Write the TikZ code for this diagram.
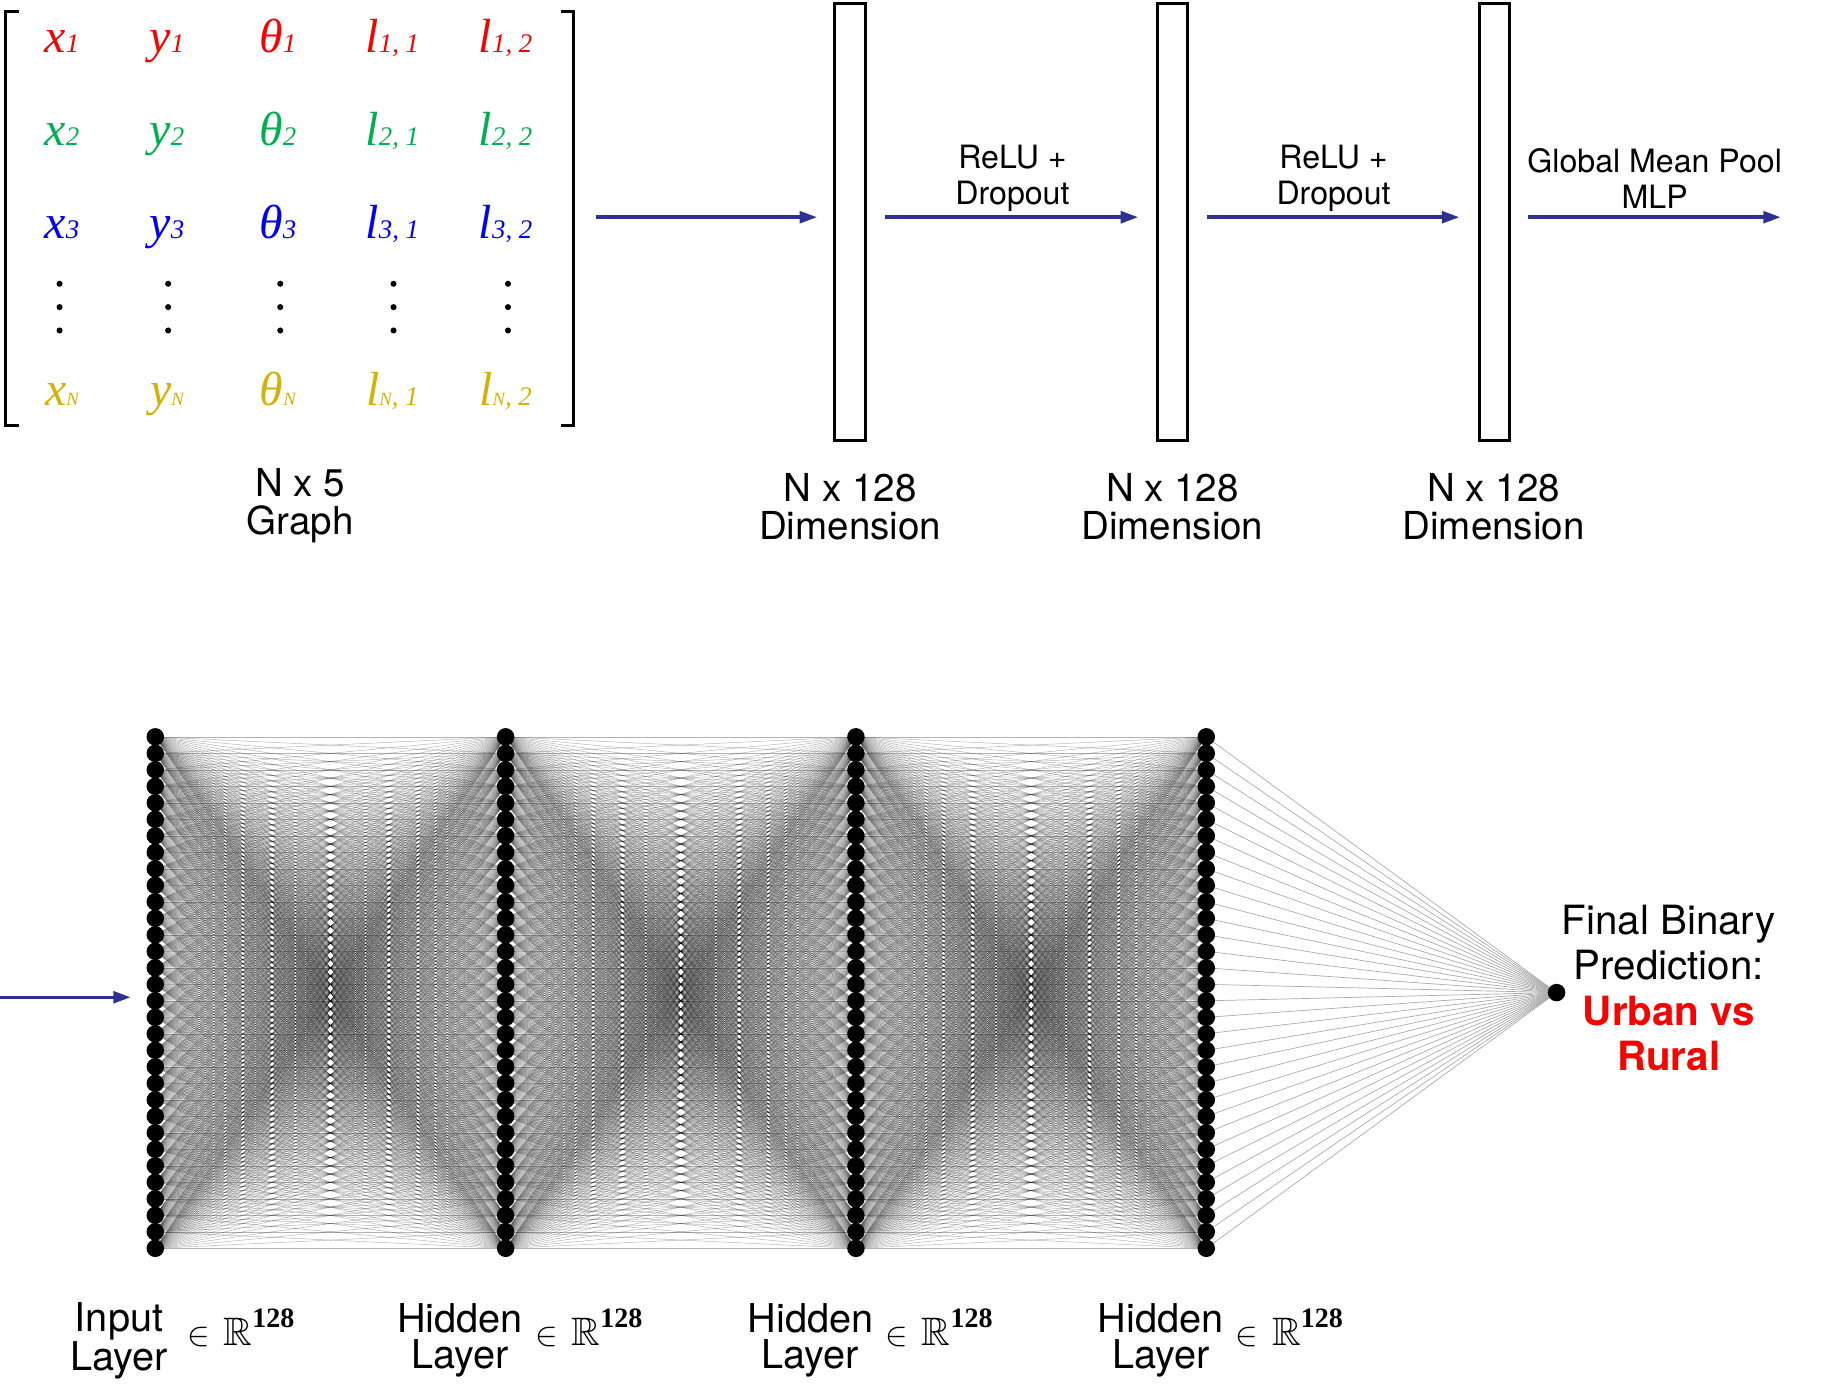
\documentclass[tikz,border=0pt]{standalone}
\usepackage{fontspec}
\usepackage{amssymb}
\usepackage{graphicx}
\setmainfont{TeX Gyre Heros}
\newfontfamily\tms{Liberation Serif}
\usetikzlibrary{arrows.meta}
\definecolor{navy}{RGB}{46,49,146}
\definecolor{mred}{RGB}{250,0,0}
\definecolor{mgreen}{RGB}{0,176,80}
\definecolor{mblue}{RGB}{0,0,250}
\definecolor{mgold}{RGB}{212,177,6}
\pgfdeclarelayer{bg}
\pgfsetlayers{bg,main}
\newcommand\mentry[2]{{\tms\itshape\fontsize{41}{42}\selectfont #1}{\tms\itshape\fontsize{23}{24}\selectfont #2}}
\newcommand\smN{{\fontsize{16}{16}\selectfont N}}
\newcommand\memb{\scalebox{2.9}{$\in$}\hspace{12pt}\scalebox{3.4}{$\mathbb{R}$}\raisebox{15pt}{\tms\bfseries\fontsize{24}{24}\selectfont 128}}
\begin{document}
\begin{tikzpicture}[x=1pt,y=-1pt,
  ent/.style={anchor=base, inner sep=0pt},
  dotn/.style={circle, fill=black, inner sep=0pt, minimum size=5.2pt},
  bracketline/.style={line width=2.5pt},
  vbox/.style={draw, line width=2.5pt, minimum width=26pt, minimum height=374pt, inner sep=0pt},
  arr/.style={draw=navy, line width=3pt, -{Triangle[length=15pt,width=10pt]}},
  biglabel/.style={align=center, font=\fontsize{33}{32}\selectfont, inner sep=0pt},
  arrlabel/.style={align=center, font=\fontsize{27.5}{31}\selectfont, inner sep=0pt},
  neuron/.style={circle, fill=black, inner sep=0pt, minimum size=15pt},
  edge/.style={line width=0.4pt, draw=black, draw opacity=0.3},
  outedge/.style={line width=0.6pt, draw=black!33},
  memlabel/.style={anchor=base west, inner sep=0pt}
]
\useasboundingbox (0,0) rectangle (1568,1191.2);

% ---------- matrix ----------
\node[minimum width=486pt, minimum height=354pt, inner sep=0pt] (mat) at (248,187) {};
\draw[bracketline] (16,10) -| (5,364) -- (16,364);
\draw[bracketline] (480,10) -| (491,364) -- (480,364);

\node[ent, text=mred] (a11) at (53,45) {\mentry{x}{1}};
\node[ent, text=mred] (a12) at (143,45) {\mentry{y}{1}};
\node[ent, text=mred] (a13) at (238,45) {\mentry{θ}{1}};
\node[ent, text=mred] (a14) at (336,45) {\mentry{l}{1, 1}};
\node[ent, text=mred] (a15) at (433,45) {\mentry{l}{1, 2}};

\node[ent, text=mgreen] (a21) at (53,125) {\mentry{x}{2}};
\node[ent, text=mgreen] (a22) at (143,125) {\mentry{y}{2}};
\node[ent, text=mgreen] (a23) at (238,125) {\mentry{θ}{2}};
\node[ent, text=mgreen] (a24) at (336,125) {\mentry{l}{2, 1}};
\node[ent, text=mgreen] (a25) at (433,125) {\mentry{l}{2, 2}};

\node[ent, text=mblue] (a31) at (53,204) {\mentry{x}{3}};
\node[ent, text=mblue] (a32) at (143,204) {\mentry{y}{3}};
\node[ent, text=mblue] (a33) at (238,204) {\mentry{θ}{3}};
\node[ent, text=mblue] (a34) at (336,204) {\mentry{l}{3, 1}};
\node[ent, text=mblue] (a35) at (433,204) {\mentry{l}{3, 2}};

\node[ent, text=mgold] (a41) at (53,347) {\mentry{x}{\smN}};
\node[ent, text=mgold] (a42) at (143,347) {\mentry{y}{\smN}};
\node[ent, text=mgold] (a43) at (238,347) {\mentry{θ}{\smN}};
\node[ent, text=mgold] (a44) at (336,347) {\mentry{l}{\smN, 1}};
\node[ent, text=mgold] (a45) at (433,347) {\mentry{l}{\smN, 2}};

\foreach \c/\x in {1/51,2/144,3/240,4/337,5/435}
  \foreach \r/\y in {1/243,2/263,3/283}
    \node[dotn] (d\c-\r) at (\x,\y) {};

\node[biglabel] (graphlab) at (257,433) {N x 5\\Graph};

% ---------- GNN boxes ----------
\node[vbox] (b1) at (728,190) {};
\node[vbox] (b2) at (1004,190) {};
\node[vbox] (b3) at (1280,190) {};
\coordinate (e3) at (1525,186);

\draw[arr, shorten <=19pt, shorten >=14pt] ([yshift=1pt]mat.east) -- ([yshift=4pt]b1.west);
\draw[arr, shorten <=16pt, shorten >=15pt] ([yshift=4pt]b1.east) -- ([yshift=4pt]b2.west);
\draw[arr, shorten <=15pt, shorten >=16pt] ([yshift=4pt]b2.east) -- ([yshift=4pt]b3.west);
\draw[arr, shorten <=14pt] ([yshift=4pt]b3.east) -- (e3);

\node[arrlabel] (r1) at (867,153) {ReLU +\\Dropout};
\node[arrlabel] (r2) at (1142,153) {ReLU +\\Dropout};
\node[arrlabel] (r3) at (1417,153) {Global Mean Pool\\MLP};

\node[biglabel] (dim1) at (728,434) {N x 128\\Dimension};
\node[biglabel] (dim2) at (1004,434) {N x 128\\Dimension};
\node[biglabel] (dim3) at (1279,434) {N x 128\\Dimension};

% ---------- MLP ----------
\foreach \l/\x in {1/133,2/433,3/733,4/1033}
  \foreach \i in {1,...,32}
    \node[neuron] (L\l-\i) at (\x,{631+(\i-1)*14.129}) {};
\node[neuron] (out) at (1333,850) {};

\begin{pgfonlayer}{bg}
\foreach \l/\m in {1/2,2/3,3/4}
  \foreach \i in {1,...,32}
    \foreach \j in {1,...,32}
      \draw[edge] (L\l-\i.center) -- (L\m-\j.center);
\foreach \i in {1,...,32}
  \draw[outedge] (L4-\i.center) -- (out.center);
\end{pgfonlayer}

\coordinate (s0) at (0,854);
\coordinate (e0) at (112,854);
\draw[arr] (s0) -- (e0);

\node[biglabel, font=\fontsize{34}{31}\selectfont] (lab1) at (102,1148) {Input\\Layer};
\node[biglabel, font=\fontsize{34}{31}\selectfont] (lab2) at (394,1148) {Hidden\\Layer};
\node[biglabel, font=\fontsize{34}{31}\selectfont] (lab3) at (694,1148) {Hidden\\Layer};
\node[biglabel, font=\fontsize{34}{31}\selectfont] (lab4) at (994,1148) {Hidden\\Layer};
\node[memlabel] (m1) at (160,1152) {\memb};
\node[memlabel] (m2) at (458,1152) {\memb};
\node[memlabel] (m3) at (758,1152) {\memb};
\node[memlabel] (m4) at (1058,1152) {\memb};

\node[align=center, inner sep=0pt, font=\fontsize{34.5}{39}\selectfont] (final) at (1429,846)
  {Final Binary\\Prediction:\\{\color{mred}\bfseries Urban vs}\\{\color{mred}\bfseries Rural}};
\end{tikzpicture}
\end{document}
